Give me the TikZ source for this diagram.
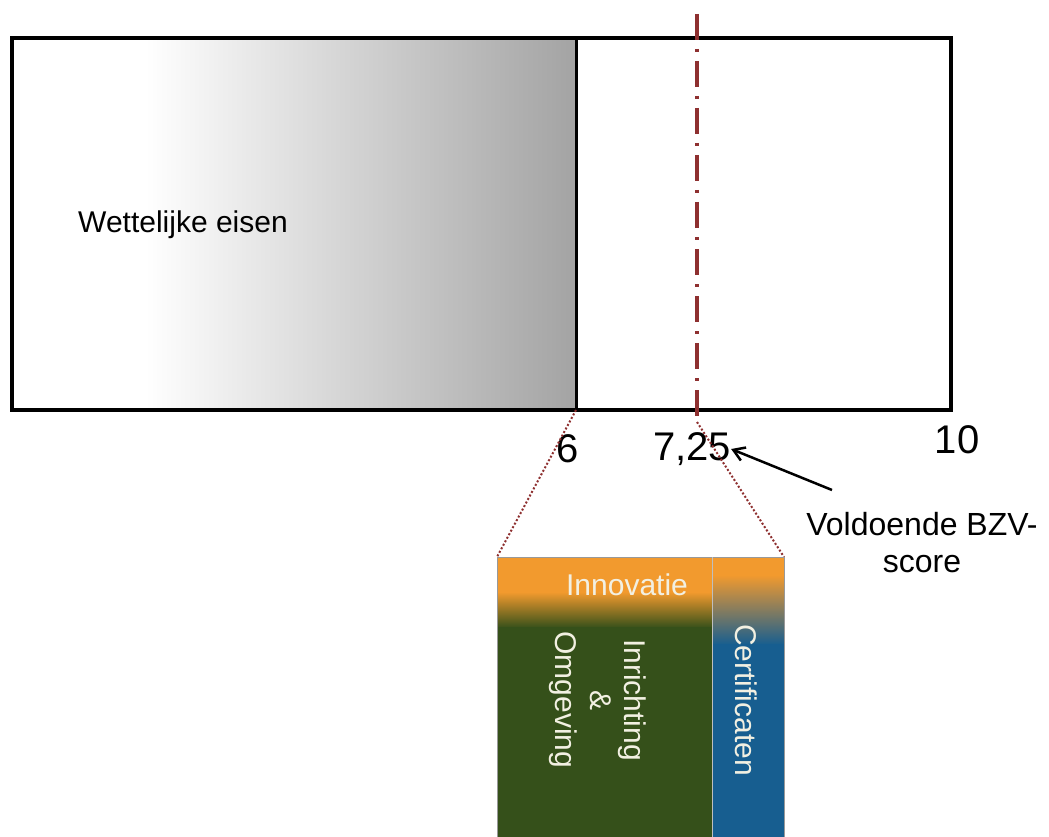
\documentclass[tikz,border=0pt]{standalone}
\usepackage{fontspec}
\setmainfont{Liberation Sans}
\usepackage{tikz}
\usetikzlibrary{arrows.meta, calc, positioning}
\definecolor{oranje}{HTML}{F29A2E}
\definecolor{groen}{HTML}{35501A}
\definecolor{blauw}{HTML}{175E90}
\definecolor{lijnrood}{HTML}{8E3030}
\definecolor{tekstlicht}{HTML}{F2F0E2}

\begin{document}
\begin{tikzpicture}[
        x=1pt, y=-1pt,
        every node/.style={font=\fontsize{30}{35}\selectfont, inner sep=0pt},
        schaal/.style={font=\fontsize{40}{44}\selectfont},
        kolom/.style={text=tekstlicht, align=center, rotate=-90},
      ]
      \useasboundingbox (0,0) rectangle (1049,837);

      % Wettelijke eisen (verloop)
      \fill[white] (12,38) rectangle (145,410);
      \shade[left color=white, right color=black!36] (145,38) rectangle (576,410);
      \draw[line width=3.5pt] (12,38) rectangle (951,410);
      \draw[line width=3pt] (576,38) coordinate (zes top) -- (576,410) coordinate (zes);
      \node (eisen) at (183,225) {Wettelijke eisen};

      % Grens 7,25
      \draw[lijnrood, line width=3.5pt, dash pattern=on 26pt off 9pt on 3pt off 9pt]
        (697,14) -- (697,422) coordinate (grens);

      % Schaal
      \node[schaal] (s6) at (568,449) {6};
      \node[schaal] (s725) at (692,449) {7,25};
      \node[schaal] (s10) at (957,440) {10};

      \node[align=center, font=\fontsize{32}{37}\selectfont] (score) at (922,543)
        {Voldoende BZV-\\score};
      \coordinate (pijlstart) at (832,490);
      \draw[line width=2.5pt, -{Straight Barb[length=11pt, width=14pt]}]
        (pijlstart) -- (s725.east);

      % Uitvergroting
      \coordinate (links) at (497,557);
      \coordinate (midden) at (712,557);
      \coordinate (rechts) at (784,557);
      \draw[lijnrood, line width=2pt, dotted] (zes) -- (links);
      \draw[lijnrood, line width=2pt, dotted] (grens) -- (rechts);

      % Kolommen
      \fill[oranje] (links) rectangle (712,592);
      \shade[top color=oranje, bottom color=groen] (497,592) rectangle (712,628);
      \fill[groen] (497,627) rectangle (712,837);
      \fill[oranje] (midden) rectangle (784,575);
      \shade[top color=oranje, bottom color=blauw] (712,575) rectangle (784,645);
      \fill[blauw] (712,644) rectangle (784,837);
      \draw[black!40, line width=1pt] (497,837) -- (links) -- (rechts) -- (784,837);
      \draw[black!25, line width=1pt] (midden) -- (712,837);

      \node[text=tekstlicht] (innovatie) at (627,585) {Innovatie};
      \node[kolom, font=\fontsize{30}{34.5}\selectfont] (inrichting) at (598,700)
        {Inrichting\\\&\\Omgeving};
      \node[kolom] (certificaten) at (746,700) {Certificaten};
    \end{tikzpicture}
\end{document}
